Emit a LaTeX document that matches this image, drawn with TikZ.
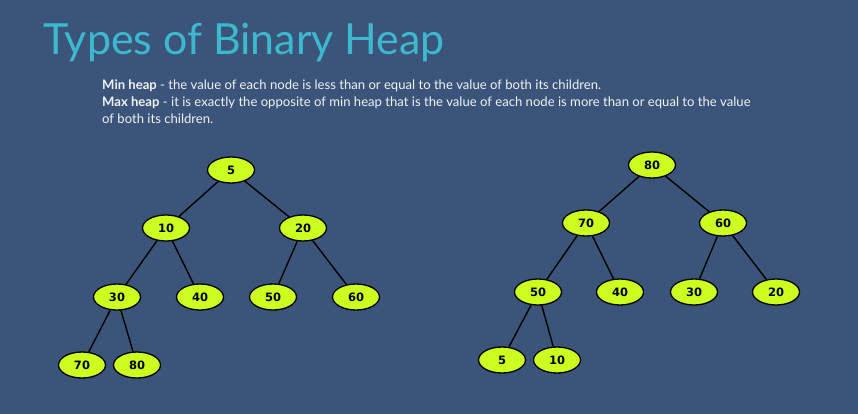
\documentclass[tikz,border=0pt]{standalone}
\usepackage{fontspec}
\setmainfont{Lato}
\newfontfamily\nodefont{DejaVu Sans}
\definecolor{bgblue}{HTML}{3A5579}
\definecolor{titlecyan}{HTML}{3DB9CF}
\definecolor{heaplime}{HTML}{CCFF1F}
\definecolor{bodygrey}{HTML}{F0F2F5}
\tikzset{
  heapnode/.style={ellipse, draw=black, line width=1.3pt, fill=heaplime,
    minimum width=47pt, minimum height=26pt, inner sep=0pt,
    font=\nodefont\bfseries\fontsize{11.5}{13}\selectfont},
  edge/.style={draw=black, line width=1.4pt},
  bodyline/.style={anchor=base west, inner sep=0pt, text=bodygrey,
    font=\fontsize{13.1}{15}\selectfont}
}
\usetikzlibrary{shapes.geometric}
\begin{document}
\begin{tikzpicture}[x=1pt,y=-1pt]
\fill[bgblue] (0,0) rectangle (858,414);
\useasboundingbox (0,0) rectangle (858,414);

% heading and definitions
\node[anchor=base west, inner sep=0pt, text=titlecyan,
  font=\fontsize{42.9}{48}\selectfont] (title) at (43,55) {Types of Binary Heap};
\node[bodyline] (minline) at (102,90) {\textbf{Min heap} - the value of each node is less than or equal to the value of both its children.};
\node[bodyline] (maxline) at (102,107) {\textbf{Max heap} - it is exactly the opposite of min heap that is the value of each node is more than or equal to the value};
\node[bodyline] (maxline2) at (102,124) {of both its children.};

% min heap
\node[heapnode] (a5)  at (231,170) {5};
\node[heapnode] (a10) at (166,228) {10};
\node[heapnode] (a20) at (303,228) {20};
\node[heapnode] (a30) at (117,297) {30};
\node[heapnode] (a40) at (200,297) {40};
\node[heapnode] (a50) at (273,297) {50};
\node[heapnode] (a60) at (356,297) {60};
\node[heapnode] (a70) at (82,365)  {70};
\node[heapnode] (a80) at (137,365) {80};
\draw[edge] (a5) -- (a10);
\draw[edge] (a5) -- (a20);
\draw[edge] (a10) -- (a30);
\draw[edge] (a10) -- (a40);
\draw[edge] (a20) -- (a50);
\draw[edge] (a20) -- (a60);
\draw[edge] (a30) -- (a70);
\draw[edge] (a30) -- (a80);

% max heap
\node[heapnode] (b80) at (652,165) {80};
\node[heapnode] (b70) at (586,223) {70};
\node[heapnode] (b60) at (723,223) {60};
\node[heapnode] (b50) at (538,292) {50};
\node[heapnode] (b40) at (620,292) {40};
\node[heapnode] (b30) at (694,292) {30};
\node[heapnode] (b20) at (776,292) {20};
\node[heapnode] (b5)  at (502,360) {5};
\node[heapnode] (b10) at (557,360) {10};
\draw[edge] (b80) -- (b70);
\draw[edge] (b80) -- (b60);
\draw[edge] (b70) -- (b50);
\draw[edge] (b70) -- (b40);
\draw[edge] (b60) -- (b30);
\draw[edge] (b60) -- (b20);
\draw[edge] (b50) -- (b5);
\draw[edge] (b50) -- (b10);
\end{tikzpicture}
\end{document}
